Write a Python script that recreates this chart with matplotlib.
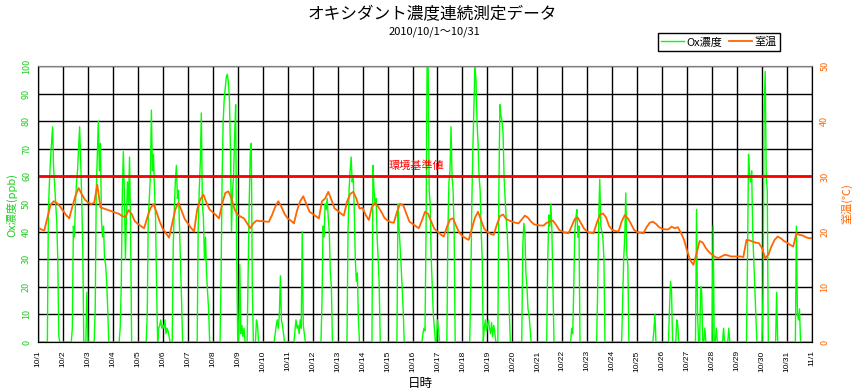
import matplotlib
matplotlib.use("Agg")
import pandas as pd
import matplotlib.pyplot as plt

plt.rcParams["font.family"] = ["Noto Sans CJK JP", "DejaVu Sans"]

# hourly Ox (ppb), 10/1 0h .. 10/31 23h
ox = [
    0, 0, 0, 0, 0, 0, 0, 0, 0, 0, 48, 58, 66, 72, 78, 63, 57, 50, 44, 30, 2, 0, 0, 0,      # 10/1
    0, 0, 0, 0, 0, 0, 0, 0, 0, 5, 42, 38, 50, 58, 62, 70, 78, 66, 52, 35, 0, 0, 0, 18,     # 10/2
    0, 0, 0, 0, 0, 0, 0, 12, 55, 68, 80, 62, 72, 44, 38, 42, 30, 28, 22, 12, 0, 0, 0, 0,   # 10/3
    0, 0, 0, 0, 0, 0, 0, 5, 20, 52, 69, 55, 30, 45, 58, 50, 67, 40, 0, 0, 0, 0, 0, 0,      # 10/4
    0, 0, 0, 0, 0, 0, 0, 0, 0, 10, 45, 52, 60, 84, 62, 68, 55, 45, 20, 0, 5, 6, 8, 5,      # 10/5
    6, 5, 8, 3, 5, 4, 2, 0, 0, 0, 35, 48, 58, 64, 52, 55, 42, 30, 15, 0, 0, 0, 0, 0,       # 10/6
    0, 0, 0, 0, 0, 0, 0, 0, 0, 0, 42, 55, 65, 83, 50, 45, 30, 38, 25, 18, 12, 0, 0, 0,     # 10/7
    0, 0, 0, 0, 0, 0, 0, 0, 25, 60, 80, 88, 92, 96, 97, 94, 88, 70, 40, 55, 60, 75, 86, 30,  # 10/8
    0, 4, 28, 3, 6, 2, 5, 0, 0, 0, 25, 50, 68, 72, 20, 0, 0, 0, 8, 6, 0, 0, 0, 0,          # 10/9
    0, 0, 0, 0, 0, 0, 0, 0, 0, 0, 0, 0, 3, 6, 8, 5, 10, 24, 8, 6, 3, 0, 0, 0,              # 10/10
    0, 0, 0, 0, 0, 0, 0, 4, 8, 5, 6, 3, 8, 5, 40, 6, 3, 0, 0, 0, 0, 0, 0, 0,               # 10/11
    0, 0, 0, 0, 0, 0, 0, 0, 0, 15, 42, 38, 50, 48, 52, 45, 40, 25, 20, 0, 0, 0, 0, 0,      # 10/12
    0, 0, 0, 0, 0, 0, 0, 0, 0, 0, 40, 55, 62, 67, 58, 60, 48, 30, 22, 25, 8, 0, 0, 0,      # 10/13
    0, 0, 0, 0, 0, 0, 0, 0, 0, 0, 64, 55, 50, 52, 38, 30, 20, 0, 0, 0, 0, 0, 0, 0,         # 10/14
    0, 0, 0, 0, 0, 0, 0, 0, 0, 0, 50, 42, 35, 28, 20, 12, 0, 0, 0, 0, 0, 0, 0, 0,          # 10/15
    0, 0, 0, 0, 0, 0, 0, 0, 0, 0, 3, 5, 4, 40, 100, 102, 55, 50, 30, 20, 10, 5, 0, 0,      # 10/16
    8, 5, 0, 0, 0, 0, 0, 0, 0, 0, 40, 58, 62, 78, 60, 55, 40, 0, 0, 0, 0, 0, 0, 0,         # 10/17
    0, 0, 0, 0, 0, 0, 0, 0, 20, 50, 70, 85, 100, 95, 80, 72, 60, 55, 40, 30, 0, 5, 8, 4,   # 10/18
    6, 8, 5, 3, 7, 2, 6, 4, 0, 0, 0, 55, 86, 82, 80, 76, 60, 52, 45, 40, 30, 12, 0, 0,     # 10/19
    0, 0, 0, 0, 0, 0, 0, 0, 0, 0, 35, 43, 40, 25, 20, 12, 10, 5, 0, 0, 0, 0, 0, 0,         # 10/20
    0, 0, 0, 0, 0, 0, 0, 0, 0, 0, 30, 46, 42, 50, 40, 20, 0, 0, 0, 0, 0, 0, 0, 0,          # 10/21
    0, 0, 0, 0, 0, 0, 0, 0, 0, 5, 3, 20, 40, 45, 48, 38, 42, 0, 0, 0, 0, 0, 0, 0,          # 10/22
    0, 0, 0, 0, 0, 0, 0, 0, 0, 0, 20, 45, 59, 42, 40, 38, 30, 0, 0, 0, 0, 0, 0, 0,         # 10/23
    0, 0, 0, 0, 0, 0, 0, 0, 0, 0, 15, 30, 38, 54, 32, 28, 0, 0, 0, 0, 0, 0, 0, 0,          # 10/24
    0, 0, 0, 0, 0, 0, 0, 0, 0, 0, 0, 0, 0, 0, 0, 0, 4, 10, 0, 0, 0, 0, 0, 0,               # 10/25
    0, 0, 0, 0, 0, 0, 0, 12, 22, 18, 0, 0, 0, 0, 8, 6, 0, 0, 0, 0, 0, 0, 0, 0,             # 10/26
    0, 0, 0, 0, 0, 0, 0, 0, 0, 48, 10, 0, 0, 20, 18, 0, 0, 5, 0, 0, 0, 0, 0, 0,            # 10/27
    0, 42, 0, 0, 5, 0, 0, 0, 0, 0, 0, 5, 0, 0, 0, 0, 5, 0, 0, 0, 0, 0, 0, 0,               # 10/28
    0, 0, 0, 0, 0, 0, 0, 0, 0, 0, 30, 68, 60, 58, 62, 40, 30, 20, 10, 0, 0, 0, 0, 0,       # 10/29
    0, 20, 85, 98, 60, 55, 0, 0, 0, 0, 0, 0, 0, 0, 18, 0, 0, 0, 0, 0, 0, 0, 0, 0,          # 10/30
    0, 0, 0, 0, 0, 0, 0, 0, 0, 42, 10, 8, 12, 0, 0, 0, 0, 0, 0, 0, 0, 0, 0, 0,             # 10/31
]

# 3-hourly room temperature (deg C), 10/1 0h .. 11/1 0h
temp = [
    20.7, 20.4, 20.2, 22.5, 24.8, 25.5, 25.2, 24.6,
    23.8, 23.0, 22.4, 24.5, 26.5, 27.9, 26.8, 25.8,
    25.3, 25.0, 25.2, 28.5, 24.4, 24.2, 24.0, 23.8,
    23.6, 23.4, 23.2, 22.8, 22.6, 23.9, 23.2, 21.9,
    21.4, 21.0, 20.6, 22.5, 24.2, 25.0, 23.5, 21.8,
    20.5, 19.7, 18.9, 21.5, 24.0, 25.2, 23.8, 22.3,
    21.5, 20.7, 20.0, 24.0, 25.8, 26.7, 25.2, 24.0,
    23.5, 23.0, 22.4, 25.0, 27.0, 27.3, 26.0, 24.0,
    23.0, 22.7, 22.4, 21.5, 20.6, 21.5, 22.0, 21.9,
    21.9, 21.8, 21.8, 23.0, 24.5, 25.5, 24.5, 23.2,
    22.4, 22.0, 21.5, 23.8, 25.5, 26.4, 25.0, 23.6,
    23.2, 22.8, 22.4, 25.5, 26.0, 27.2, 25.8, 24.2,
    23.8, 23.3, 22.9, 25.4, 26.8, 27.2, 26.0, 24.2,
    24.3, 23.0, 22.1, 24.5, 25.2, 24.5, 23.6, 22.5,
    22.0, 21.7, 21.6, 23.5, 25.0, 24.8, 23.3, 21.8,
    21.4, 21.0, 20.6, 22.0, 23.6, 23.2, 21.8, 20.5,
    20.0, 19.5, 19.1, 20.8, 22.2, 22.4, 21.0, 19.8,
    19.2, 18.8, 18.5, 20.5, 22.5, 23.6, 22.0, 20.5,
    19.9, 19.6, 19.4, 21.2, 22.8, 23.1, 22.3, 22.0,
    21.8, 21.6, 21.5, 22.2, 22.9, 22.5, 21.8, 21.3,
    21.2, 21.1, 21.1, 21.6, 21.8, 22.0, 21.2, 20.3,
    20.0, 19.8, 19.7, 21.0, 22.3, 22.5, 21.5, 20.5,
    20.0, 19.8, 19.7, 21.5, 23.0, 23.3, 22.6, 21.0,
    20.3, 20.1, 20.0, 21.8, 23.0, 22.4, 21.4, 20.3,
    19.9, 19.8, 19.7, 20.8, 21.6, 21.8, 21.4, 20.8,
    20.5, 20.4, 20.4, 20.9, 20.6, 20.8, 19.8, 18.5,
    16.5, 14.8, 14.0, 16.0, 18.3, 18.0, 17.0, 16.3,
    15.8, 15.4, 15.2, 15.5, 15.8, 15.7, 15.5, 15.5,
    15.5, 15.5, 15.4, 18.5, 18.4, 18.2, 18.0, 17.9,
    17.0, 15.2, 15.8, 17.3, 18.5, 19.1, 18.8, 18.3,
    18.0, 17.6, 17.3, 19.7, 19.4, 19.3, 19.0, 18.8,
    18.8,
]

day_labels = ["10/%d" % d for d in range(1, 32)] + ["11/1"]
standard = 60  # 環境基準値 (ppb)

green = "#00ff00"
green_txt = "#22cc22"
orange = "#ff6600"

ox_time = pd.date_range("2010-10-01", periods=len(ox), freq="h")
temp_time = pd.date_range("2010-10-01", periods=len(temp), freq="3h")
days = pd.date_range("2010-10-01", "2010-11-01", freq="D")

fig = plt.figure(figsize=(8.59, 3.91), dpi=100)
ax = fig.add_axes([38 / 859, 1 - 342 / 391, 774 / 859, 276 / 391])
ax2 = ax.twinx()

ax.plot(ox_time, ox, color=green, lw=1, zorder=3, label="Ox濃度")
ax.axhline(standard, color="red", lw=2, zorder=4)
ax.text(days[15] + pd.Timedelta(hours=4), standard + 4, "環境基準値", color="red",
        fontsize=8, ha="center", va="center", zorder=5)
ax2.plot(temp_time, temp, color=orange, lw=1.3, label="室温")

ax.set_xlim(days[0], days[-1])
ax.set_ylim(0, 100)
ax2.set_ylim(0, 50)
ax.set_xticks(days)
ax.set_xticklabels(day_labels, rotation=90, fontsize=6, family=["Liberation Sans"])
ax.set_yticks(range(0, 101, 10))
ax2.set_yticks(range(0, 51, 10))
ax.tick_params(axis="x", length=0, pad=6)
ax.tick_params(axis="y", length=0, pad=5, labelrotation=90, labelsize=6.5, labelcolor=green_txt)
ax2.tick_params(axis="y", length=0, pad=6, labelrotation=90, labelsize=6.5, labelcolor=orange)
for lab in ax.get_yticklabels():
    lab.set_va("center")
for lab in ax2.get_yticklabels():
    lab.set_va("center")

ax.grid(True, color="black", lw=1)
ax.set_axisbelow(True)
for sp in ax.spines.values():
    sp.set_color("black")
ax.spines["top"].set_color("gray")
ax2.spines["top"].set_color("gray")

fig.text(432 / 859, 1 - 15 / 391, "オキシダント濃度連続測定データ", fontsize=12, ha="center", va="center")
fig.text(434 / 859, 1 - 31.5 / 391, "2010/10/1～10/31", fontsize=8, ha="center", va="center")
fig.text(12 / 859, 1 - 205 / 391, "Ox濃度(ppb)", color=green_txt, fontsize=8, rotation=90,
         ha="center", va="center")
fig.text(847 / 859, 1 - 204 / 391, "室温(℃)", color=orange, fontsize=8, rotation=90,
         ha="center", va="center")
fig.text(420 / 859, 1 - 383 / 391, "日時", fontsize=9, ha="center", va="center")

h1, l1 = ax.get_legend_handles_labels()
h2, l2 = ax2.get_legend_handles_labels()
leg = fig.legend(h1 + h2, l1 + l2, loc="center", bbox_to_anchor=(719 / 859, 1 - 42 / 391),
                 ncol=2, fontsize=8, handlelength=2.1, handletextpad=0.2, columnspacing=0.6,
                 borderpad=0.3, fancybox=False, edgecolor="black", framealpha=1)
leg.get_frame().set_linewidth(1)

plt.savefig("out.png", dpi=100)
